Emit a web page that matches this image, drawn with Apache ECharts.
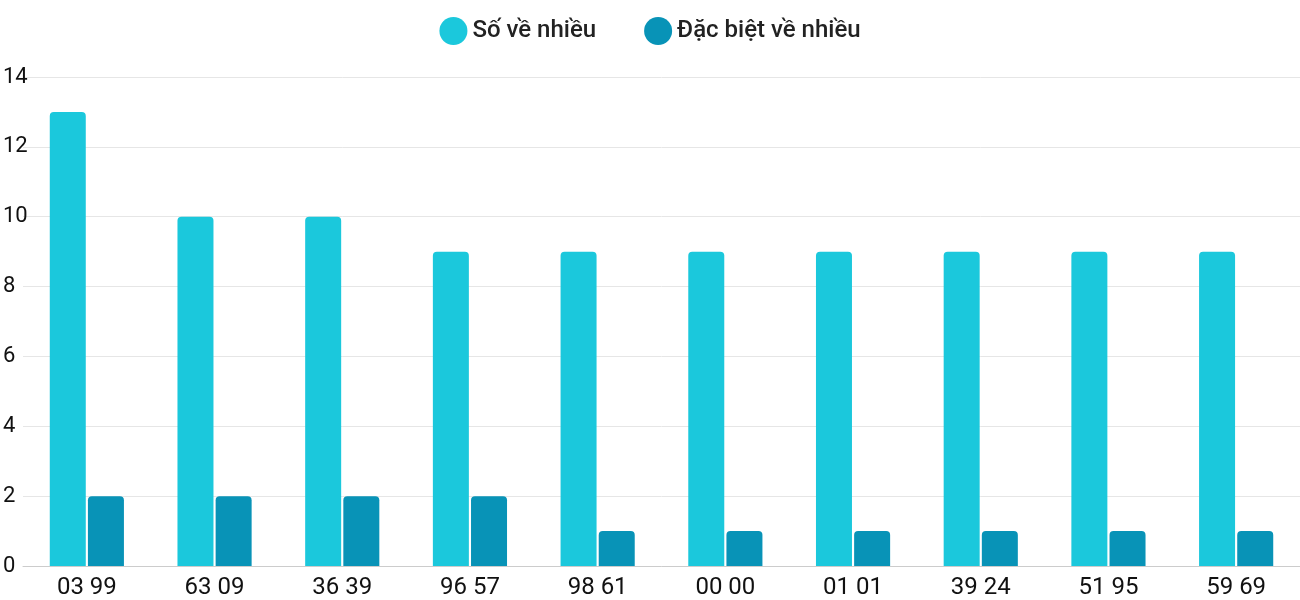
<!DOCTYPE html>
<html><head><meta charset="utf-8">
<script src="https://cdn.jsdelivr.net/npm/echarts@6/dist/echarts.min.js"></script>
<style>html,body{margin:0;padding:0;background:#fff}#c{width:1300px;height:600px}</style>
</head><body><div id="c"></div>
<script>
const categories = ["03 99","63 09","36 39","96 57","98 61","00 00","01 01","39 24","51 95","59 69"];
const soVeNhieu = [13,10,10,9,9,9,9,9,9,9];
const dacBiet = [2,2,2,2,1,1,1,1,1,1];
const chart = echarts.init(document.getElementById('c'));
chart.setOption({
  animation:false,
  textStyle:{fontFamily:'Roboto'},
  legend:{top:12,left:'center',icon:'circle',itemWidth:28,itemHeight:28,itemGap:48,
    textStyle:{fontSize:24,fontWeight:500,color:'#222',fontFamily:'Roboto'}},
  grid:{left:20,right:-28,top:77,bottom:34},
  xAxis:{type:'category',data:categories,
    axisLine:{lineStyle:{color:'#ccc'}},axisTick:{show:false},
    axisLabel:{fontSize:24,color:'#111',margin:10}},
  yAxis:{type:'value',min:0,max:14,interval:2,
    axisLabel:{fontSize:22,color:'#111',align:'left',margin:20},
    splitLine:{lineStyle:{color:'#e6e6e6'}}},
  series:[
    {name:'Số về nhiều',type:'bar',data:soVeNhieu,barWidth:36,barGap:'6%',
      itemStyle:{color:'#1bc8dc',borderRadius:[4,4,0,0]}},
    {name:'Đặc biệt về nhiều',type:'bar',data:dacBiet,barWidth:36,
      itemStyle:{color:'#0893b7',borderRadius:[4,4,0,0]}}
  ]
});
</script></body></html>
